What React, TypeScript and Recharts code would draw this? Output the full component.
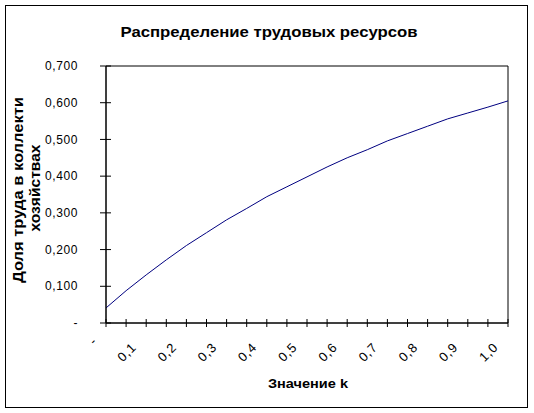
import React from "react";
import { LineChart, Line, XAxis, YAxis, ReferenceArea } from "recharts";

const kValues = ["0", "0.05", "0.1", "0.15", "0.2", "0.25", "0.3", "0.35", "0.4", "0.45", "0.5", "0.55", "0.6", "0.65", "0.7", "0.75", "0.8", "0.85", "0.9", "0.95", "1.0"];
const laborShare = [0.041, 0.088, 0.131, 0.172, 0.211, 0.246, 0.281, 0.312, 0.344, 0.371, 0.398, 0.425, 0.45, 0.472, 0.496, 0.516, 0.536, 0.556, 0.572, 0.588, 0.605];
const yTicks = [0, 0.1, 0.2, 0.3, 0.4, 0.5, 0.6, 0.7];

const chartTitle = "Распределение трудовых ресурсов";
const xTitle = "Значение k";
const yTitleLine1 = "Доля труда в коллекти";
const yTitleLine2 = "хозяйствах";

const data = kValues.map((k, i) => ({ k, share: laborShare[i] }));

const FONT = "'Liberation Sans', Arial, sans-serif";

const fmtY = (v: number) => (v === 0 ? "-" : v.toFixed(3).replace(".", ","));
const fmtX = (k: string) => (Number(k) === 0 ? "-" : Number(k).toFixed(1).replace(".", ","));

const YTick = (props: any) => {
  const { x, y, payload } = props;
  return (
    <g>
      <line x1={x - 6} x2={x + 5} y1={y} y2={y} stroke="#000" strokeWidth={1} />
      <text x={x - 28} y={y} dy="0.35em" textAnchor="end" fontFamily={FONT} fontSize={12} fill="#000" letterSpacing={0.6}>
        {fmtY(payload.value)}
      </text>
    </g>
  );
};

const XTick = (props: any) => {
  const { x, y, payload, index } = props;
  const isZero = Number(payload.value) === 0;
  const tx = isZero ? x - 8 : x - 9;
  const ty = isZero ? y + 19 : y + 25;
  return (
    <g>
      <line x1={x} x2={x} y1={y - 4} y2={y + 4} stroke="#000" strokeWidth={1} />
      {index % 2 === 0 && (
        <g transform={`translate(${tx}, ${ty}) rotate(-45)`}>
          <text x={0} y={0} textAnchor="end" fontFamily={FONT} fontSize={13} fill="#000" letterSpacing={0.8}>
            {fmtX(payload.value)}
          </text>
        </g>
      )}
    </g>
  );
};

export default function App() {
  return (
    <div style={{ position: "absolute", left: 0, top: 0, width: 534, height: 413, background: "#fff" }}>
      <LineChart width={534} height={413} data={data} margin={{ top: 66, right: 26, bottom: 0, left: 0 }}>
        <ReferenceArea x1={kValues[0]} x2={kValues[kValues.length - 1]} y1={0} y2={0.7} stroke="#000" strokeWidth={1} fill="none" fillOpacity={0} ifOverflow="visible" />
        <XAxis dataKey="k" type="category" interval={0} height={90} tickSize={0} tickMargin={0} tickLine={false} axisLine={{ stroke: "#000" }} tick={<XTick />} />
        <YAxis type="number" domain={[0, 0.7]} ticks={yTicks} width={106} tickSize={0} tickMargin={0} tickLine={false} axisLine={{ stroke: "#000" }} tick={<YTick />} interval={0} />
        <Line type="linear" dataKey="share" stroke="#000080" strokeWidth={1} dot={false} isAnimationActive={false} />
      </LineChart>
      <svg width={534} height={413} style={{ position: "absolute", left: 0, top: 0, pointerEvents: "none" }}>
        <rect x={5.5} y={5.5} width={522} height={402} fill="none" stroke="#000" strokeWidth={1} />
        <text x={269} y={37} textAnchor="middle" fontFamily={FONT} fontWeight="bold" fontSize={15} textLength={297} lengthAdjust="spacingAndGlyphs">
          {chartTitle}
        </text>
        <text x={308} y={388} textAnchor="middle" fontFamily={FONT} fontWeight="bold" fontSize={13} textLength={80} lengthAdjust="spacingAndGlyphs">
          {xTitle}
        </text>
        <text x={23} y={190} textAnchor="middle" fontFamily={FONT} fontWeight="bold" fontSize={14} textLength={186} lengthAdjust="spacingAndGlyphs" transform="rotate(-90, 23, 190)">
          {yTitleLine1}
        </text>
        <text x={40} y={188} textAnchor="middle" fontFamily={FONT} fontWeight="bold" fontSize={14} textLength={87} lengthAdjust="spacingAndGlyphs" transform="rotate(-90, 40, 188)">
          {yTitleLine2}
        </text>
      </svg>
    </div>
  );
}
